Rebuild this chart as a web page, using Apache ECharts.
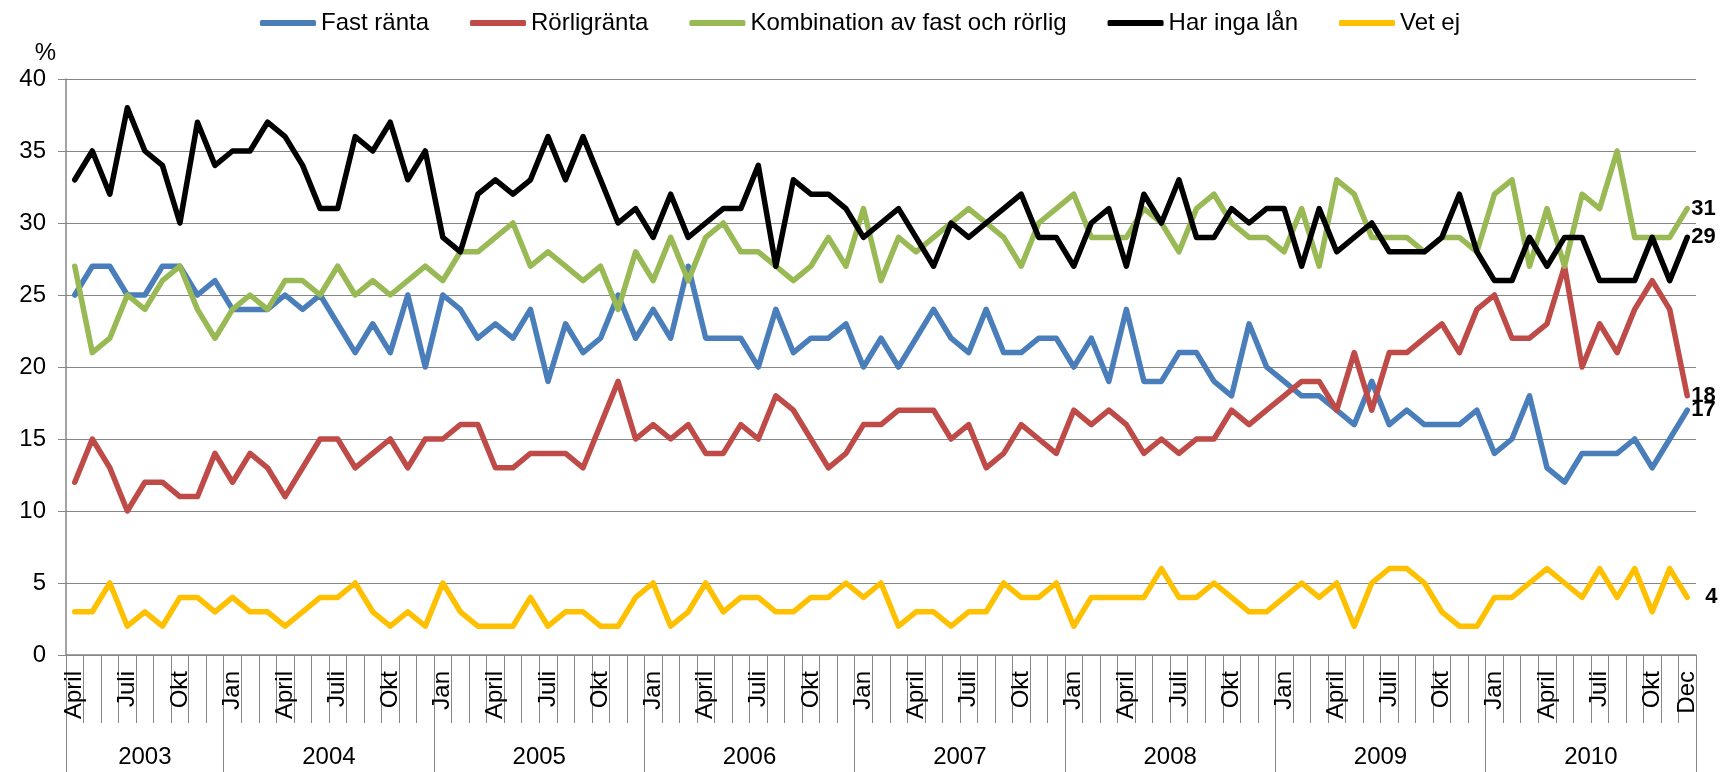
<!DOCTYPE html>
<html lang="sv">
<head>
    <meta charset="UTF-8">
    <title>Fast eller rörlig ränta</title>
    <script src="https://cdn.jsdelivr.net/npm/echarts@6/dist/echarts.min.js"></script>
    <style>
        html, body { margin: 0; padding: 0; background: #fff; }
        #main { width: 1720px; height: 772px; }
    </style>
</head>
<body>
<div id="main"></div>
<script type="text/javascript">
    const monthNames = ['Jan', 'Feb', 'Mars', 'April', 'Maj', 'Juni', 'Juli', 'Aug', 'Sep', 'Okt', 'Nov', 'Dec']
    const years = ['2003', '2004', '2005', '2006', '2007', '2008', '2009', '2010']
    const firstMonth = 3 // april 2003

    // procent per månad, april 2003 - december 2010
    const fastRanta = [
        25, 27, 27, 25, 25, 27, 27, 25, 26, 24, 24, 24, 25,
        24, 25, 23, 21, 23, 21, 25, 20, 25, 24, 22, 23, 22,
        24, 19, 23, 21, 22, 25, 22, 24, 22, 27, 22, 22, 22,
        20, 24, 21, 22, 22, 23, 20, 22, 20, 22, 24, 22, 21,
        24, 21, 21, 22, 22, 20, 22, 19, 24, 19, 19, 21, 21, 19,
        18, 23, 20, 19, 18, 18, 17, 16, 19, 16, 17, 16, 16, 16,
        17, 14, 15, 18, 13, 12, 14, 14, 14, 15, 13, 15, 17
    ]
    const rorligRanta = [
        12, 15, 13, 10, 12, 12, 11, 11, 14, 12, 14, 13, 11,
        13, 15, 15, 13, 14, 15, 13, 15, 15, 16, 16, 13, 13,
        14, 14, 14, 13, 16, 19, 15, 16, 15, 16, 14, 14, 16,
        15, 18, 17, 15, 13, 14, 16, 16, 17, 17, 17, 15, 16,
        13, 14, 16, 15, 14, 17, 16, 17, 16, 14, 15, 14, 15, 15,
        17, 16, 17, 18, 19, 19, 17, 21, 17, 21, 21, 22, 23, 21,
        24, 25, 22, 22, 23, 27, 20, 23, 21, 24, 26, 24, 18
    ]
    const kombination = [
        27, 21, 22, 25, 24, 26, 27, 24, 22, 24, 25, 24, 26,
        26, 25, 27, 25, 26, 25, 26, 27, 26, 28, 28, 29, 30,
        27, 28, 27, 26, 27, 24, 28, 26, 29, 26, 29, 30, 28,
        28, 27, 26, 27, 29, 27, 31, 26, 29, 28, 29, 30, 31,
        30, 29, 27, 30, 31, 32, 29, 29, 29, 31, 30, 28, 31, 32,
        30, 29, 29, 28, 31, 27, 33, 32, 29, 29, 29, 28, 29, 29,
        28, 32, 33, 27, 31, 27, 32, 31, 35, 29, 29, 29, 31
    ]
    const ingaLan = [
        33, 35, 32, 38, 35, 34, 30, 37, 34, 35, 35, 37, 36,
        34, 31, 31, 36, 35, 37, 33, 35, 29, 28, 32, 33, 32,
        33, 36, 33, 36, 33, 30, 31, 29, 32, 29, 30, 31, 31,
        34, 27, 33, 32, 32, 31, 29, 30, 31, 29, 27, 30, 29,
        30, 31, 32, 29, 29, 27, 30, 31, 27, 32, 30, 33, 29, 29,
        31, 30, 31, 31, 27, 31, 28, 29, 30, 28, 28, 28, 29, 32,
        28, 26, 26, 29, 27, 29, 29, 26, 26, 26, 29, 26, 29
    ]
    const vetEj = [
        3, 3, 5, 2, 3, 2, 4, 4, 3, 4, 3, 3, 2,
        3, 4, 4, 5, 3, 2, 3, 2, 5, 3, 2, 2, 2,
        4, 2, 3, 3, 2, 2, 4, 5, 2, 3, 5, 3, 4,
        4, 3, 3, 4, 4, 5, 4, 5, 2, 3, 3, 2, 3,
        3, 5, 4, 4, 5, 2, 4, 4, 4, 4, 6, 4, 4, 5,
        4, 3, 3, 4, 5, 4, 5, 2, 5, 6, 6, 5, 3, 2,
        2, 4, 4, 5, 6, 5, 4, 6, 4, 6, 3, 6, 4
    ]

    const font = "'Liberation Sans', Arial, sans-serif"
    const grey = '#868686'

    // en kategori per månad, t.ex. "April 2003"
    const months = []
    const yearCenter = {}
    years.forEach((y, i) => {
        const start = months.length
        for (let m = (i === 0 ? firstMonth : 0); m < 12; m++) {
            months.push(monthNames[m] + ' ' + y)
        }
        yearCenter[(start + months.length) / 2] = y
    })
    const last = months.length - 1

    function line(name, data, color, dist) {
        return {
            name: name,
            type: 'line',
            data: data,
            symbol: 'none',
            showSymbol: false,
            itemStyle: {color: color},
            lineStyle: {color: color, width: 5.5, cap: 'round', join: 'round'},
            endLabel: {
                show: true, formatter: '{c}', color: '#000', fontWeight: 'bold',
                fontSize: 22, fontFamily: font, distance: dist
            }
        }
    }

    let chart = echarts.init(document.getElementById('main'))
    chart.setOption({
        animation: false,
        textStyle: {fontFamily: font},
        legend: {
            top: 6,
            left: 'center',
            icon: 'roundRect',
            itemWidth: 56,
            itemHeight: 6,
            itemGap: 41,
            textStyle: {fontSize: 24, color: '#000', fontFamily: font}
        },
        grid: {left: 66, right: 24, top: 79, bottom: 117, outerBoundsMode: 'none'},
        xAxis: [{
            type: 'category',
            data: months,
            position: 'bottom',
            boundaryGap: true,
            axisLine: {show: true, lineStyle: {color: grey, width: 1.5}},
            axisTick: {show: true, interval: 0, length: 68, lineStyle: {color: grey, width: 1}},
            axisLabel: {
                interval: (i) => i % 3 === 0 || i === last,
                formatter: (v) => v.split(' ')[0],
                rotate: 90,
                margin: 16,
                fontSize: 24,
                color: '#000',
                fontFamily: font
            }
        }, {
            // årsavgränsare
            type: 'category',
            data: months,
            position: 'bottom',
            boundaryGap: true,
            axisLine: {show: false},
            axisTick: {
                show: true,
                interval: (i, v) => i === 0 || v.startsWith('Jan'),
                length: 117,
                lineStyle: {color: grey, width: 1}
            },
            axisLabel: {show: false}
        }, {
            // årtal mitt under varje år
            type: 'value',
            position: 'bottom',
            min: 0,
            max: months.length,
            interval: 1.5,
            axisLine: {show: false},
            axisTick: {show: false},
            splitLine: {show: false},
            axisLabel: {
                formatter: (v) => yearCenter[v] || '',
                margin: 90,
                fontSize: 24,
                color: '#000',
                fontFamily: font
            }
        }],
        yAxis: {
            type: 'value',
            min: 0,
            max: 40,
            interval: 5,
            name: '%',
            nameLocation: 'end',
            nameGap: 14,
            nameTextStyle: {fontSize: 24, color: '#000', align: 'right', padding: [0, 10, 0, 0], fontFamily: font},
            axisLine: {show: true, lineStyle: {color: grey, width: 1.5}},
            axisTick: {show: true, length: 8, lineStyle: {color: grey}},
            axisLabel: {fontSize: 24, color: '#000', margin: 20, fontFamily: font},
            splitLine: {show: true, lineStyle: {color: grey, width: 1.2}}
        },
        series: [
            line('Fast ränta', fastRanta, '#4A7EBB', 4),
            line('Rörligränta', rorligRanta, '#BE4B48', 4),
            line('Kombination av fast och rörlig', kombination, '#98B954', 4),
            line('Har inga lån', ingaLan, '#000000', 4),
            line('Vet ej', vetEj, '#FFC000', 18)
        ]
    })
</script>
</body>
</html>
